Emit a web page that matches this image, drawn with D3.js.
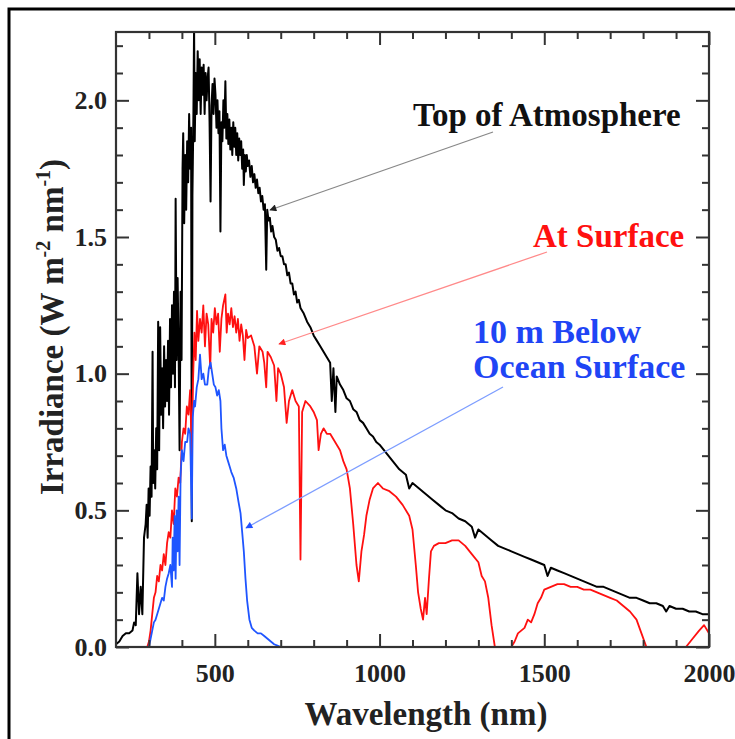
<!DOCTYPE html>
<html>
<head>
<meta charset="utf-8">
<title>Solar irradiance spectra</title>
<script src="https://d3js.org/d3.v7.min.js"></script>
<style>
  body { margin: 0; background: #fff; }
  svg { display: block; }
  .tick text { font-family: "Liberation Serif", "Times New Roman", serif; font-weight: bold; }
</style>
</head>
<body>
<svg id="chart" width="735" height="739"></svg>
<script>
// Top of atmosphere spectrum (wavelength nm, irradiance W m-2 nm-1)
var toaNm = [200,210,220,230,240,250,255,260,265,270,275,280,285,290,293,296,299,302,305,308,311,313,316,319,322,325,328,331,334,337,340,343,346,349,352,355,358,361,364,367,370,373,376,379,381,384,387,390,393,396,399,402,404,407,410,413,416,419,422,425,428,430,432,435,437,439,442,445,448,451,454,457,460,463,466,469,472,475,478,481,484,487,490,493,496,499,502,505,508,511,514,517,520,523,526,529,532,535,538,541,544,547,550,553,556,559,562,565,568,571,574,577,580,583,586,588,591,594,597,600,604,608,612,616,620,624,628,632,636,640,644,648,652,656,659,663,667,671,675,680,685,690,695,700,705,710,715,720,725,730,735,740,745,750,755,760,770,780,790,800,810,820,830,840,850,855,860,866,870,880,890,900,910,920,930,940,950,960,970,980,990,1000,1020,1040,1060,1080,1090,1100,1120,1140,1160,1180,1200,1220,1240,1260,1280,1290,1300,1320,1340,1360,1380,1400,1420,1440,1460,1480,1500,1510,1520,1540,1560,1580,1600,1620,1640,1660,1680,1700,1720,1740,1760,1780,1800,1820,1840,1860,1870,1880,1900,1920,1940,1960,1980,2000];
var toaVal = [0.01,0.02,0.04,0.05,0.05,0.06,0.09,0.08,0.27,0.12,0.22,0.12,0.40,0.45,0.52,0.40,0.58,0.48,0.66,0.55,1.08,0.60,0.72,0.58,0.80,0.65,1.19,0.72,1.17,0.85,1.02,0.80,1.10,0.88,1.05,0.90,1.12,0.85,1.20,0.95,1.25,1.00,1.30,0.95,1.64,1.05,1.35,1.10,0.72,1.30,1.05,1.75,1.88,1.55,1.80,1.60,1.85,1.70,1.95,1.75,1.90,0.46,1.65,1.95,2.27,1.85,2.10,1.95,2.18,2.00,2.15,1.95,2.12,2.02,2.13,1.95,2.10,2.00,2.08,2.12,1.92,1.63,1.98,2.06,1.95,2.08,2.02,1.90,2.00,1.88,1.96,1.52,1.92,1.85,2.00,1.90,2.07,1.86,1.95,1.84,1.93,1.82,1.90,1.80,1.92,1.83,1.90,1.80,1.88,1.78,1.86,1.80,1.85,1.75,1.82,1.69,1.80,1.74,1.80,1.76,1.78,1.72,1.76,1.70,1.73,1.68,1.71,1.66,1.68,1.63,1.65,1.60,1.62,1.38,1.60,1.56,1.57,1.52,1.54,1.50,1.49,1.45,1.46,1.43,1.43,1.40,1.40,1.36,1.37,1.33,1.33,1.29,1.30,1.26,1.27,1.24,1.22,1.19,1.17,1.14,1.12,1.10,1.08,1.06,1.04,0.90,1.02,0.86,0.99,0.96,0.94,0.91,0.90,0.87,0.86,0.83,0.82,0.80,0.78,0.77,0.75,0.74,0.71,0.68,0.65,0.63,0.58,0.60,0.58,0.56,0.54,0.52,0.50,0.49,0.47,0.46,0.44,0.40,0.43,0.41,0.39,0.37,0.36,0.35,0.34,0.33,0.32,0.31,0.30,0.26,0.29,0.28,0.27,0.26,0.25,0.24,0.23,0.22,0.22,0.21,0.20,0.19,0.18,0.18,0.17,0.16,0.16,0.15,0.13,0.15,0.14,0.14,0.13,0.13,0.12,0.12];

// At the surface
var surfNm = [295,300,305,310,315,320,325,330,335,340,345,350,355,360,365,370,375,380,385,390,395,400,405,410,415,420,425,430,434,438,442,446,450,455,460,465,470,475,480,486,490,495,500,505,510,515,520,525,532,536,540,545,550,555,560,565,570,575,580,585,590,595,600,610,620,628,635,645,650,656,660,670,680,687,692,700,710,718,725,735,745,755,760,765,775,790,800,810,815,822,830,840,850,860,870,880,890,900,910,920,930,937,945,953,960,970,980,995,1010,1030,1050,1070,1090,1100,1110,1117,1125,1132,1138,1143,1150,1156,1165,1180,1200,1220,1240,1260,1280,1300,1310,1320,1330,1340,1350,1400,1410,1420,1440,1450,1460,1470,1480,1490,1500,1520,1540,1560,1580,1600,1620,1640,1660,1680,1700,1720,1740,1760,1780,1795,1810,1930,1950,1970,1985,2000];
var surfVal = [0,0.02,0.06,0.12,0.18,0.20,0.26,0.24,0.30,0.28,0.34,0.30,0.38,0.42,0.40,0.50,0.45,0.58,0.55,0.62,0.60,0.75,0.80,0.78,0.88,0.85,0.94,0.70,0.98,1.15,1.05,1.23,1.12,1.20,1.15,1.25,1.10,1.22,1.18,1.02,1.20,1.15,1.24,1.18,1.22,1.08,1.20,1.25,1.29,1.15,1.22,1.18,1.24,1.17,1.21,1.15,1.20,1.12,1.18,1.14,1.05,1.16,1.13,1.14,1.10,1.00,1.10,1.08,1.04,0.95,1.08,1.06,1.03,0.90,1.02,1.00,0.95,0.82,0.90,0.94,0.90,0.88,0.32,0.86,0.90,0.88,0.86,0.83,0.72,0.78,0.80,0.78,0.78,0.76,0.74,0.72,0.68,0.65,0.58,0.45,0.30,0.24,0.35,0.41,0.48,0.54,0.58,0.60,0.58,0.57,0.55,0.52,0.48,0.43,0.30,0.20,0.14,0.10,0.18,0.12,0.25,0.35,0.37,0.38,0.38,0.39,0.39,0.37,0.34,0.31,0.26,0.24,0.18,0.08,0,0,0.02,0.05,0.07,0.10,0.09,0.12,0.16,0.18,0.21,0.22,0.23,0.23,0.22,0.22,0.21,0.21,0.20,0.19,0.18,0.17,0.15,0.13,0.10,0.05,0,0,0.03,0.06,0.08,0.05];

// 10 m below the ocean surface
var oceanNm = [300,305,310,315,320,325,330,335,340,345,350,355,360,365,370,372,375,378,381,384,387,390,393,396,400,405,410,416,420,425,430,433,437,440,445,450,455,460,465,470,477,482,487,492,497,502,507,512,517,520,525,530,535,540,545,550,557,565,572,578,583,588,593,598,605,612,620,630,640,650,660,670,680,690,700,720];
var oceanVal = [0,0.03,0.06,0.09,0.10,0.12,0.14,0.16,0.18,0.17,0.22,0.25,0.27,0.30,0.22,0.40,0.28,0.48,0.25,0.50,0.35,0.55,0.30,0.62,0.72,0.68,0.75,0.75,0.80,0.78,0.47,0.84,0.90,0.88,0.95,0.98,1.07,0.98,1.00,0.96,0.96,1.02,1.04,1.00,0.96,0.95,0.92,0.94,0.90,0.80,0.72,0.74,0.70,0.68,0.66,0.64,0.62,0.58,0.53,0.49,0.42,0.35,0.25,0.17,0.10,0.07,0.06,0.05,0.05,0.04,0.03,0.02,0.01,0.005,0,0];

var xMajor = [500, 1000, 1500, 2000];
var xMinor = [300,400,600,700,800,900,1100,1200,1300,1400,1600,1700,1800,1900];
var yMajor = [0, 0.5, 1.0, 1.5, 2.0];
var yMinor = [0.1,0.2,0.3,0.4,0.6,0.7,0.8,0.9,1.1,1.2,1.3,1.4,1.6,1.7,1.8,1.9,2.1,2.2];

var svg = d3.select("#chart");
var serif = "'Liberation Serif', 'Times New Roman', serif";

var plotL = 116, plotR = 709, plotT = 32, plotB = 647;
var x = d3.scaleLinear().domain([200, 2000]).range([plotL, plotR]);
var y = d3.scaleLinear().domain([0, 2.25]).range([plotB, plotT]);

// outer frame
svg.append("rect").attr("x", 0).attr("y", 0).attr("width", 735).attr("height", 739).attr("fill", "#fff");
svg.append("rect").attr("x", 9).attr("y", 9).attr("width", 740).attr("height", 740)
  .attr("fill", "none").attr("stroke", "#000").attr("stroke-width", 3);

svg.append("clipPath").attr("id", "plot")
  .append("rect").attr("x", plotL).attr("y", plotT).attr("width", plotR - plotL).attr("height", plotB - plotT);

function series(nm, val) {
  return nm.map(function(d, i) { return [d, val[i]]; });
}
var line = d3.line().x(function(d) { return x(d[0]); }).y(function(d) { return y(d[1]); });

var g = svg.append("g").attr("clip-path", "url(#plot)");
g.append("path").datum(series(toaNm, toaVal)).attr("d", line)
  .attr("fill", "none").attr("stroke", "#000").attr("stroke-width", 2).attr("stroke-linejoin", "round");
g.append("path").datum(series(surfNm, surfVal)).attr("d", line)
  .attr("fill", "none").attr("stroke", "#ff1010").attr("stroke-width", 1.8).attr("stroke-linejoin", "round");
g.append("path").datum(series(oceanNm, oceanVal)).attr("d", line)
  .attr("fill", "none").attr("stroke", "#1f55ff").attr("stroke-width", 1.8).attr("stroke-linejoin", "round");

// axes, ticks pointing inward
function styleAxis(sel) {
  sel.select(".domain").remove();
  sel.selectAll(".tick line").attr("stroke", "#333").attr("stroke-width", 2);
  sel.selectAll(".tick text").attr("fill", "#222").attr("font-size", 26);
}
svg.append("g").attr("transform", "translate(0," + plotB + ")")
  .call(d3.axisBottom(x).tickValues(xMajor).tickSize(-13).tickPadding(17).tickFormat(d3.format("d")))
  .call(styleAxis);
svg.append("g").attr("transform", "translate(0," + plotB + ")")
  .call(d3.axisBottom(x).tickValues(xMinor).tickSize(-7).tickFormat(""))
  .call(styleAxis);
svg.append("g").attr("transform", "translate(0," + plotT + ")")
  .call(d3.axisTop(x).tickValues(xMajor).tickSize(-13).tickFormat(""))
  .call(styleAxis);
svg.append("g").attr("transform", "translate(0," + plotT + ")")
  .call(d3.axisTop(x).tickValues(xMinor).tickSize(-7).tickFormat(""))
  .call(styleAxis);
svg.append("g").attr("transform", "translate(" + plotL + ",0)")
  .call(d3.axisLeft(y).tickValues(yMajor).tickSize(-13).tickPadding(9).tickFormat(d3.format(".1f")))
  .call(styleAxis);
svg.append("g").attr("transform", "translate(" + plotL + ",0)")
  .call(d3.axisLeft(y).tickValues(yMinor).tickSize(-7).tickFormat(""))
  .call(styleAxis);
svg.append("g").attr("transform", "translate(" + plotR + ",0)")
  .call(d3.axisRight(y).tickValues(yMajor).tickSize(-13).tickFormat(""))
  .call(styleAxis);
svg.append("g").attr("transform", "translate(" + plotR + ",0)")
  .call(d3.axisRight(y).tickValues(yMinor).tickSize(-7).tickFormat(""))
  .call(styleAxis);

svg.append("rect").attr("x", plotL).attr("y", plotT).attr("width", plotR - plotL).attr("height", plotB - plotT)
  .attr("fill", "none").attr("stroke", "#333").attr("stroke-width", 2.2);

// axis titles
svg.append("text").attr("x", 426).attr("y", 725).attr("text-anchor", "middle")
  .attr("font-family", serif).attr("font-weight", "bold").attr("font-size", 33).attr("fill", "#222")
  .text("Wavelength (nm)");

var yt = svg.append("text").attr("transform", "translate(63,327) rotate(-90)").attr("text-anchor", "middle")
  .attr("font-family", serif).attr("font-weight", "bold").attr("font-size", 33).attr("fill", "#222");
yt.append("tspan").text("Irradiance (W m");
yt.append("tspan").attr("dy", -13).attr("font-size", 20).text("-2");
yt.append("tspan").attr("dy", 13).text(" nm");
yt.append("tspan").attr("dy", -13).attr("font-size", 20).text("-1");
yt.append("tspan").attr("dy", 13).text(")");

// labels with arrows
var defs = svg.append("defs");
function marker(id, color) {
  defs.append("marker").attr("id", id).attr("viewBox", "0 0 10 10").attr("refX", 9).attr("refY", 5)
    .attr("markerWidth", 10).attr("markerHeight", 7).attr("markerUnits", "userSpaceOnUse").attr("orient", "auto")
    .append("path").attr("d", "M0,0L10,5L0,10z").attr("fill", color);
}
marker("ah-k", "#222");
marker("ah-r", "#ff2020");
marker("ah-b", "#2050ff");

var labels = [
  { lines: ["Top of Atmosphere"], x: 413, y: 126, color: "#111", from: [493, 132], to: [270, 210], arrow: "#888", head: "ah-k" },
  { lines: ["At Surface"], x: 533, y: 247, color: "#ff1010", from: [547, 252], to: [279, 344], arrow: "#ff8a8a", head: "ah-r" },
  { lines: ["10 m Below", "Ocean Surface"], x: 473, y: 343, color: "#1f45f5", from: [503, 387], to: [246, 528], arrow: "#7d9dff", head: "ah-b" }
];
labels.forEach(function(d) {
  svg.append("line").attr("x1", d.from[0]).attr("y1", d.from[1]).attr("x2", d.to[0]).attr("y2", d.to[1])
    .attr("stroke", d.arrow).attr("stroke-width", 1.3).attr("marker-end", "url(#" + d.head + ")");
  d.lines.forEach(function(t, i) {
    svg.append("text").attr("x", d.x).attr("y", d.y + i * 35)
      .attr("font-family", serif).attr("font-weight", "bold").attr("font-size", d.lines.length > 1 ? 34 : 33).attr("fill", d.color)
      .text(t);
  });
});
</script>
</body>
</html>
